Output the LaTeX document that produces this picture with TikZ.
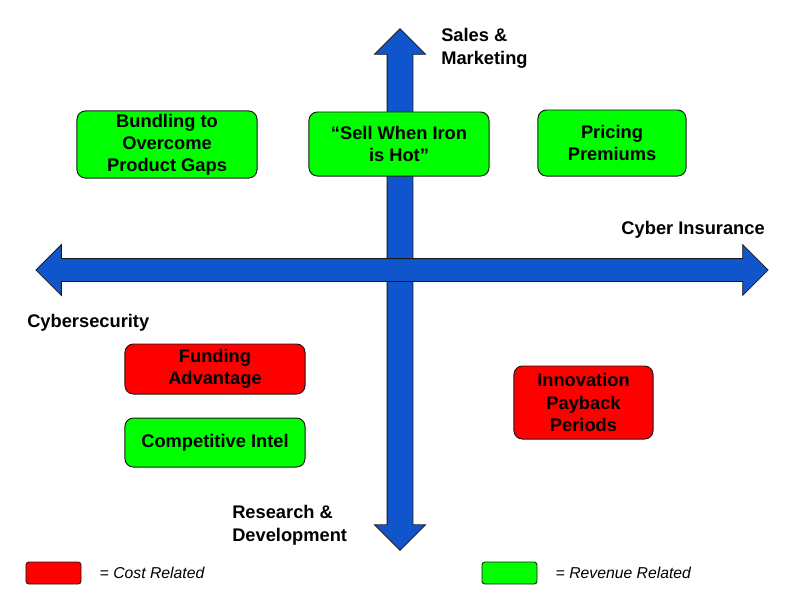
\documentclass[tikz,border=0pt]{standalone}
\usepackage{fontspec}
\setmainfont{Liberation Sans}
\usetikzlibrary{shapes.arrows,positioning}
\definecolor{qInk}{HTML}{1A1A1A}
\definecolor{qBlue}{HTML}{1155CC}
\definecolor{qGreen}{HTML}{00FF00}
\definecolor{qRed}{HTML}{FF0000}
\tikzset{
  axarr/.style={double arrow, draw=qInk, fill=qBlue, line width=0.6pt, minimum width=0pt, double arrow head indent=0pt},
  qbox/.style={draw=qInk, line width=0.7pt, rounded corners=6pt, align=center, inner sep=2pt, font=\bfseries\fontsize{13}{15.8}\selectfont},
  revbox/.style={qbox, fill=qGreen},
  costbox/.style={qbox, fill=qRed},
  lbl/.style={inner sep=0pt, align=left, font=\bfseries\fontsize{13}{16.3}\selectfont},
  keybox/.style={draw=qInk, line width=0.6pt, rounded corners=2pt, minimum width=1.375cm, minimum height=0.55cm, inner sep=0pt},
  keytxt/.style={inner sep=0pt, font=\itshape\fontsize{11.2}{13}\selectfont},
}

\begin{document}
\begin{tikzpicture}[x=0.025cm, y=-0.025cm]
  \useasboundingbox (0,0) rectangle (800,600);
  % axes
  \node[axarr, rotate=90, minimum height=13.03cm, inner sep=0.3125cm, double arrow head extend=0.3125cm] (vax) at (400,289.5) {};
  \node[axarr, minimum height=18.3cm, inner sep=0.275cm, double arrow head extend=0.35cm] (hax) at (402,270) {};
  % axis labels
  \node[lbl, anchor=west] (sales) at (441,48.5) {Sales \&\\Marketing};
  \node[lbl, anchor=east] (insur) at (765,230) {Cyber Insurance};
  \node[lbl, anchor=west] (cyber) at (27,323) {Cybersecurity};
  \node[lbl, anchor=west] (rnd) at (232,525) {Research \&\\Development};
  % quadrant boxes
  \node[revbox, minimum width=4.5cm, minimum height=1.625cm] (bundle) at (167,144.5) {Bundling to\\Overcome\\Product Gaps};
  \node[revbox, minimum width=4.5cm, minimum height=1.6cm] (sell) at (399,144) {“Sell When Iron\\is Hot”};
  \node[revbox, minimum width=3.7cm, minimum height=1.65cm] (pricing) at (612,143) {Pricing\\Premiums};
  \node[costbox, minimum width=4.5cm, minimum height=1.25cm] (funding) at (215,369) {Funding\\Advantage};
  \node[revbox, minimum width=4.5cm, minimum height=1.225cm, below=0.575cm of funding] (intel) {Competitive Intel};
  \node[costbox, minimum width=3.475cm, minimum height=1.825cm] (payback) at (583.5,402.5) {Innovation\\Payback\\Periods};
  % legend
  \node[keybox, fill=qRed] (costkey) at (53.5,573) {};
  \node[keytxt, right=0.45cm of costkey] (costtxt) {= Cost Related};
  \node[keybox, fill=qGreen] (revkey) at (509.5,573) {};
  \node[keytxt, right=0.45cm of revkey] (revtxt) {= Revenue Related};
\end{tikzpicture}
\end{document}
